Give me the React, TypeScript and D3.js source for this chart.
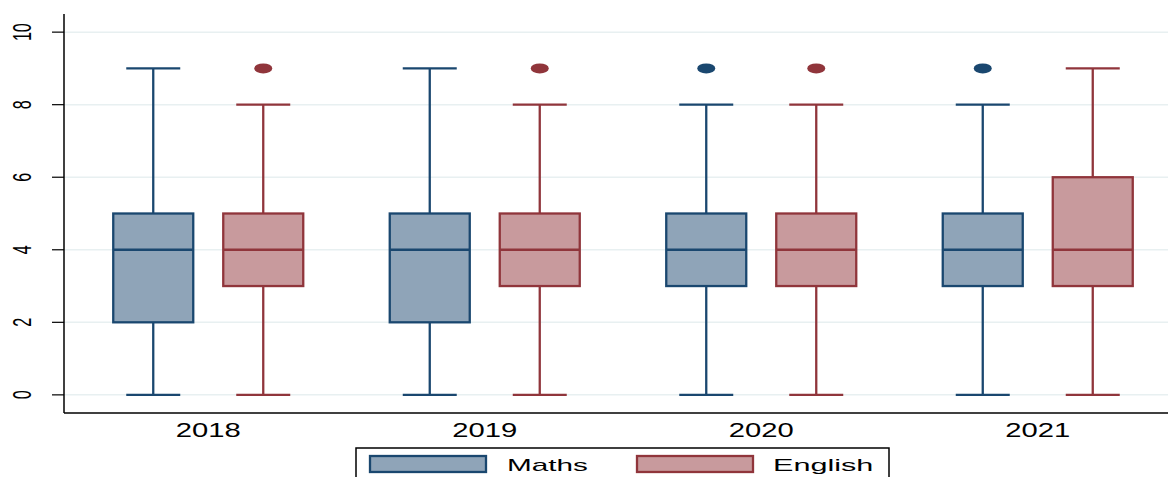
import React from "react";
import * as d3 from "d3";

const years = ["2018", "2019", "2020", "2021"];
const yTicks = [0, 2, 4, 6, 8, 10];

const mathsMin = [0, 0, 0, 0];
const mathsQ1 = [2, 2, 3, 3];
const mathsMedian = [4, 4, 4, 4];
const mathsQ3 = [5, 5, 5, 5];
const mathsMax = [9, 9, 8, 8];
const mathsOutliers = [[], [], [9], [9]];

const englishMin = [0, 0, 0, 0];
const englishQ1 = [3, 3, 3, 3];
const englishMedian = [4, 4, 4, 4];
const englishQ3 = [5, 5, 5, 6];
const englishMax = [8, 8, 8, 9];
const englishOutliers = [[9], [9], [9], []];

const W = 1168;
const H = 477;
const FONT = "'Liberation Sans', Arial, Helvetica, sans-serif";

const series = [
  {
    name: "Maths",
    min: mathsMin, q1: mathsQ1, med: mathsMedian, q3: mathsQ3, max: mathsMax, out: mathsOutliers,
    stroke: "#1a476f", fill: "#8fa4b8", offset: -55,
  },
  {
    name: "English",
    min: englishMin, q1: englishQ1, med: englishMedian, q3: englishQ3, max: englishMax, out: englishOutliers,
    stroke: "#90353b", fill: "#c89a9d", offset: 55,
  },
];

export default function App() {
  const x = d3.scaleBand<string>().domain(years).range([70, 1176]);
  const y = d3.scaleLinear().domain([-0.5, 10.5]).range([413, 14]);
  const axisX = 64;
  const boxW = 80;
  const capW = 54;
  const sw = 2.3;

  return (
    <svg width={W} height={H} style={{ position: "absolute", left: 0, top: 0, display: "block", background: "#fff" }}>
      {yTicks.map((t) => (
        <line key={"g" + t} x1={axisX} x2={W} y1={y(t)} y2={y(t)} stroke="#e8f0f1" strokeWidth={1.5} />
      ))}
      {years.map((yr, i) => {
        const c = (x(yr) as number) + x.bandwidth() / 2;
        return series.map((s) => {
          const cx = c + s.offset;
          return (
            <g key={yr + s.name}>
              <line x1={cx} x2={cx} y1={y(s.q3[i])} y2={y(s.max[i])} stroke={s.stroke} strokeWidth={sw} />
              <line x1={cx} x2={cx} y1={y(s.q1[i])} y2={y(s.min[i])} stroke={s.stroke} strokeWidth={sw} />
              <line x1={cx - capW / 2} x2={cx + capW / 2} y1={y(s.max[i])} y2={y(s.max[i])} stroke={s.stroke} strokeWidth={sw} />
              <line x1={cx - capW / 2} x2={cx + capW / 2} y1={y(s.min[i])} y2={y(s.min[i])} stroke={s.stroke} strokeWidth={sw} />
              <rect
                x={cx - boxW / 2}
                y={y(s.q3[i])}
                width={boxW}
                height={y(s.q1[i]) - y(s.q3[i])}
                fill={s.fill}
                stroke={s.stroke}
                strokeWidth={sw}
              />
              <line x1={cx - boxW / 2} x2={cx + boxW / 2} y1={y(s.med[i])} y2={y(s.med[i])} stroke={s.stroke} strokeWidth={sw} />
              {s.out[i].map((o, k) => (
                <ellipse key={k} cx={cx} cy={y(o)} rx={9} ry={5} fill={s.stroke} />
              ))}
            </g>
          );
        });
      })}
      <line x1={axisX} x2={axisX} y1={14} y2={413} stroke="#000" strokeWidth={1.5} />
      {yTicks.map((t) => (
        <g key={"t" + t}>
          <line x1={52} x2={axisX} y1={y(t)} y2={y(t)} stroke="#000" strokeWidth={1.2} />
          <text
            transform={`translate(31,${y(t)}) rotate(-90) scale(0.62,1)`}
            textAnchor="middle"
            fontFamily={FONT}
            fontSize={26}
            fill="#000"
          >
            {t}
          </text>
        </g>
      ))}
      <line x1={axisX} x2={W} y1={413} y2={413} stroke="#000" strokeWidth={1.5} />
      {years.map((yr) => {
        const c = (x(yr) as number) + x.bandwidth() / 2;
        return (
          <text
            key={"x" + yr}
            transform={`translate(${c},437) scale(1.46,1)`}
            textAnchor="middle"
            fontFamily={FONT}
            fontSize={20}
            fill="#000"
          >
            {yr}
          </text>
        );
      })}
      <rect x={356} y={448} width={533} height={40} fill="#fff" stroke="#000" strokeWidth={1.5} />
      <rect x={370} y={456} width={116} height={16} fill={series[0].fill} stroke={series[0].stroke} strokeWidth={sw} />
      <text transform="translate(507,471) scale(1.75,1)" fontFamily={FONT} fontSize={17} fill="#000">
        Maths
      </text>
      <rect x={637} y={456} width={116} height={16} fill={series[1].fill} stroke={series[1].stroke} strokeWidth={sw} />
      <text transform="translate(773,471) scale(1.8,1)" fontFamily={FONT} fontSize={17} fill="#000">
        English
      </text>
    </svg>
  );
}
